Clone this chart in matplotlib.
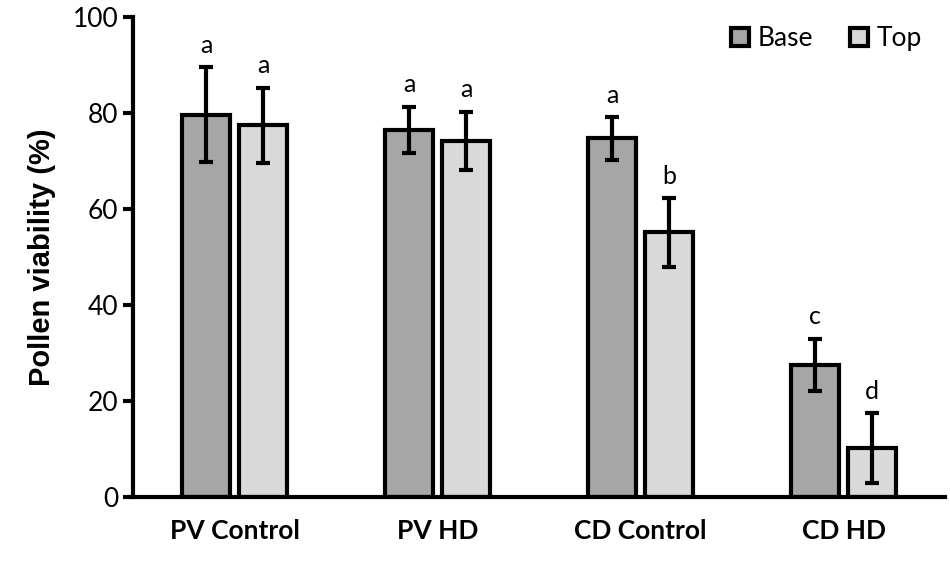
import matplotlib.pyplot as plt
import numpy as np

groups = ['PV Control', 'PV HD', 'CD Control', 'CD HD']
base_mean = [79.6, 76.5, 74.7, 27.5]
base_err = [9.9, 4.8, 4.4, 5.5]
top_mean = [77.4, 74.2, 55.1, 10.2]
top_err = [7.9, 6.0, 7.1, 7.2]
base_letters = ['a', 'a', 'a', 'c']
top_letters = ['a', 'a', 'b', 'd']

plt.rcParams['font.family'] = ['Lato', 'DejaVu Sans']

fig = plt.figure(figsize=(9.5, 5.66), dpi=100)
ax = fig.add_axes([0.14, 0.122, 0.855, 0.848])

x = np.arange(len(groups))
w = 0.235
off = 0.14
bar_kw = dict(width=w, edgecolor='black', linewidth=3, zorder=2)
err_kw = dict(ecolor='black', elinewidth=3, capsize=5, capthick=3)
ax.bar(x - off, base_mean, yerr=base_err, color='#a6a6a6', label='Base',
       error_kw=err_kw, **bar_kw)
ax.bar(x + off, top_mean, yerr=top_err, color='#d9d9d9', label='Top',
       error_kw=err_kw, **bar_kw)

for i in range(len(groups)):
    ax.text(x[i] - off, base_mean[i] + base_err[i] + 2.2, base_letters[i],
            ha='center', va='bottom', fontsize=18)
    ax.text(x[i] + off, top_mean[i] + top_err[i] + 2.2, top_letters[i],
            ha='center', va='bottom', fontsize=18)

ax.set_xlim(-0.5, 3.5)
ax.set_ylim(0, 100)
ax.set_yticks([0, 20, 40, 60, 80, 100])
ax.set_xticks(x)
ax.set_xticklabels(groups, fontsize=19, fontweight='bold')
ax.tick_params(axis='x', length=0, pad=16)
ax.tick_params(axis='y', labelsize=19, width=3, length=7, direction='out')
for s in ['top', 'right']:
    ax.spines[s].set_visible(False)
for s in ['left', 'bottom']:
    ax.spines[s].set_linewidth(3)
ax.set_ylabel('Pollen viability (%)', fontsize=21, fontweight='bold',
              family=['Liberation Sans', 'DejaVu Sans'], labelpad=12)

ax.legend(loc='upper right', ncol=2, frameon=False, fontsize=19,
          handlelength=0.7, handleheight=0.7, columnspacing=1.4,
          handletextpad=0.3, bbox_to_anchor=(1.0, 1.03))

fig.savefig('out.png', dpi=100)
